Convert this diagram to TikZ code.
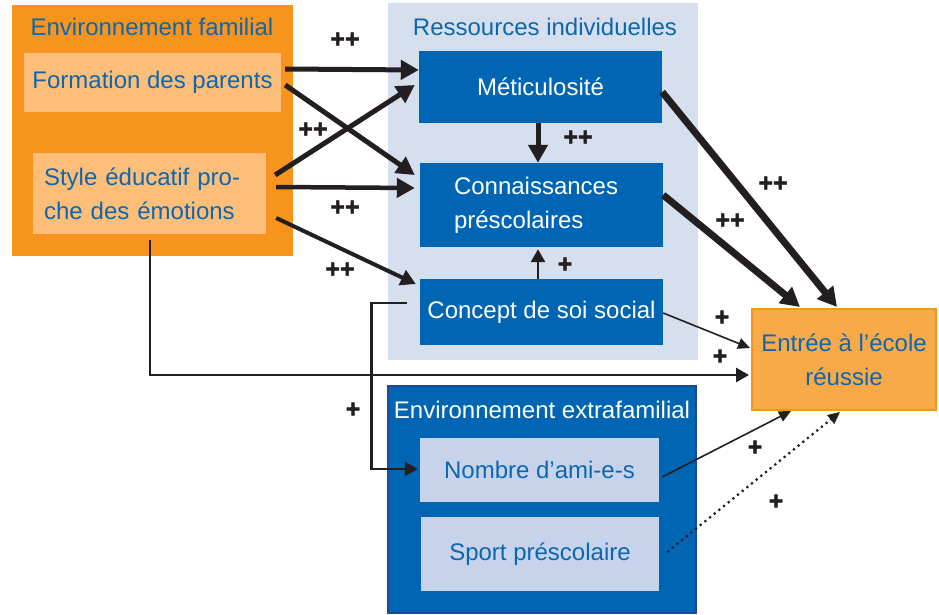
\documentclass[tikz,border=0pt]{standalone}
\usepackage{fontspec}
\setmainfont{Liberation Sans}
\newfontfamily\signfont{Liberation Sans}[UprightFont=*-Bold, FakeBold=1.5]
\usetikzlibrary{positioning,calc,arrows.meta}
\definecolor{famorange}{RGB}{247,148,29}
\definecolor{paleorange}{RGB}{252,190,120}
\definecolor{goalorange}{RGB}{248,169,72}
\definecolor{textblue}{RGB}{14,103,174}
\definecolor{boxblue}{RGB}{0,102,179}
\definecolor{resbg}{RGB}{213,223,238}
\definecolor{palebox}{RGB}{198,211,234}
\definecolor{extborder}{RGB}{35,70,150}
\definecolor{ink}{RGB}{35,31,32}
\tikzstyle{block} = [rectangle, draw=none]
\tikzstyle{lightbox} = [block, fill=paleorange, text=textblue]
\tikzstyle{bluebox} = [block, fill=boxblue, text=white]
\tikzstyle{palebluebox} = [block, fill=palebox, text=textblue]
\tikzstyle{sign} = [text=ink, font=\signfont\fontsize{25}{25}\selectfont]
\tikzstyle{heavy} = [ink, line width=7pt, -{Triangle[length=19pt,width=20pt]}]
\tikzstyle{strong} = [ink, line width=5pt, -{Triangle[length=18pt,width=19pt]}]
\tikzstyle{medium} = [ink, line width=4pt, -{Triangle[length=15pt,width=16pt]}]
\tikzstyle{light} = [ink, line width=2.8pt, -{Triangle[length=13pt,width=14pt]}]
\tikzstyle{thin} = [ink, line width=1.6pt, -{Triangle[length=12pt,width=11pt]}]

\begin{document}
\begin{tikzpicture}[x=1pt,y=-1pt]
\tikzstyle{every node}=[inner sep=0pt, font=\fontsize{24}{34}\selectfont]
\useasboundingbox (0,0) rectangle (939,615);

	\node[block, fill=famorange, minimum width=281, minimum height=251] (famenv) at (152.5,130.5) {};
	\node[text=textblue] (famtitle) at (152,27) {Environnement familial};
	\node[lightbox, minimum width=257, minimum height=59] (form) at (152.5,82.5) {Formation des parents};
	\node[lightbox, inner xsep=11pt, text width=211pt, minimum height=81, align=left] (style) at (149.5,193.5) {Style éducatif pro-\\che des émotions};

	\node[block, fill=resbg, minimum width=310, minimum height=357] (resenv) at (543,181.5) {};
	\node[text=textblue] (restitle) at (545,27) {Ressources individuelles};
	\node[bluebox, minimum width=243, minimum height=72] (meti) at (540.5,87) {Méticulosité};
	\node[bluebox, inner xsep=34pt, text width=175pt, minimum height=84, align=left] (conn) at (541.5,205) {Connaissances\\préscolaires};
	\node[bluebox, minimum width=243, minimum height=66] (concept) at (541.5,312) {Concept de soi social};

	\node[block, fill=boxblue, draw=extborder, line width=2pt, minimum width=308, minimum height=227] (extenv) at (542,499.5) {};
	\node[text=white] (exttitle) at (542,410) {Environnement extrafamilial};
	\node[palebluebox, minimum width=239, minimum height=64] (ami) at (539.5,470) {Nombre d’ami-e-s};
	\node[palebluebox, minimum width=238, minimum height=74] (sport) at (540,554) {Sport préscolaire};

	\node[block, fill=goalorange, draw=famorange, line width=2pt, minimum width=184, minimum height=101, align=center, text=textblue] (entree) at (844,359.5) {Entrée à l’école\\réussie};

	\draw[strong] ([xshift=4pt,yshift=13.5pt]form.east) -- ([yshift=17pt]meti.west);
	\draw[strong] ([xshift=4pt,yshift=-2.5pt]form.east) -- ([xshift=-5pt,yshift=30pt]conn.west);
	\draw[strong] ([xshift=9pt,yshift=18.5pt]style.east) -- ([xshift=-4pt,yshift=2pt]meti.west);
	\draw[strong, line width=4.5pt] ([xshift=10pt,yshift=6.5pt]style.east) -- ([xshift=-5pt,yshift=17pt]conn.west);
	\draw[medium] ([xshift=10pt,yshift=-24.5pt]style.east) -- ([xshift=-4pt,yshift=28pt]concept.west);
	\draw[strong] ([xshift=-2.5pt]meti.south) -- ([xshift=-3.5pt]conn.north);
	\draw[light] ([xshift=-3.5pt]concept.north) -- ([xshift=-3.5pt,yshift=-2pt]conn.south);
	\draw[heavy] ([yshift=-5pt]meti.east) -- ([xshift=-7pt,yshift=1pt]entree.north);
	\draw[heavy] ([yshift=10pt]conn.east) -- ([xshift=-44pt,yshift=1pt]entree.north);
	\draw[thin] ([yshift=-1pt]concept.east) -- ([xshift=-1pt,yshift=11.5pt]entree.west);
	\draw[light] ([xshift=0.5pt,yshift=-6pt]style.south) |- ([xshift=-2pt,yshift=-15.5pt]entree.west);
	\draw[light] ([xshift=-13pt,yshift=9pt]concept.west) -| ([xshift=-48pt,yshift=1pt]ami.west) -- ([xshift=-2pt,yshift=1pt]ami.west);
	\draw[thin] ([xshift=3pt,yshift=-7pt]ami.east) -- ([xshift=-53pt]entree.south);
	\draw[thin, line width=2.2pt, dash pattern=on 2.2pt off 3.8pt] ([xshift=8pt,yshift=2pt]sport.east) -- ([xshift=-4pt,yshift=-1pt]entree.south);

	\node[sign] (p1) at (345,40) {++};
	\node[sign] (p2) at (313,130) {++};
	\node[sign] (p3) at (345,208) {++};
	\node[sign] (p4) at (340,270) {++};
	\node[sign] (p5) at (578,138) {++};
	\node[sign] (p6) at (565,265) {+};
	\node[sign] (p7) at (773,184) {++};
	\node[sign] (p8) at (730,221) {++};
	\node[sign] (p9) at (722,318) {+};
	\node[sign] (p10) at (720,357) {+};
	\node[sign] (p11) at (353,410) {+};
	\node[sign] (p12) at (755,448) {+};
	\node[sign] (p13) at (776,502) {+};
\end{tikzpicture}
\end{document}
